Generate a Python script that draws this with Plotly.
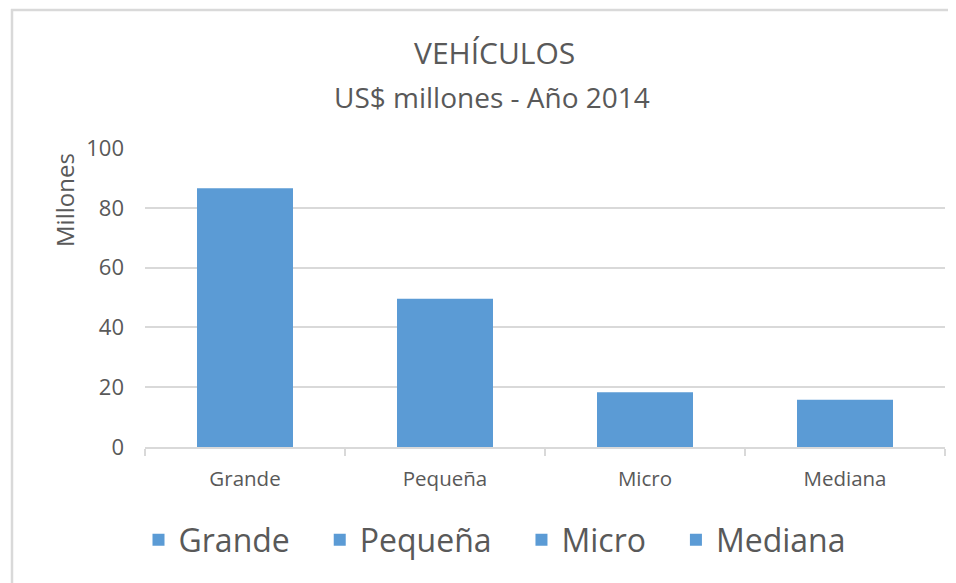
import plotly.graph_objects as go

categories = ["Grande", "Pequeña", "Micro", "Mediana"]
values = [86.5, 49.6, 18.3, 15.8]
y_ticks = [0, 20, 40, 60, 80, 100]

BAR = "#5B9BD5"
TXT = "#595959"
GRID = "#D9D9D9"
FONT = "Open Sans"

fig = go.Figure()
for c, v in zip(categories, values):
    fig.add_trace(go.Bar(x=[c], y=[v], name=c + "\u00a0\u00a0\u00a0",
                         marker=dict(color=BAR, line=dict(width=0)), width=0.48))

OFF = 8  # page body margin
W, H = 948, 575
PL, PR, PT, PB = 145, 945, 148, 447  # plot area in screenshot pixels
L = PL - OFF
T = PT - OFF
R = W - (PR - OFF)
B = H - (PB - OFF)
pw = PR - PL
ph = PB - PT

def px(x):
    return (x - PL) / pw

def py(y):
    return (PB - y) / ph

fig.update_layout(
    width=W, height=H,
    margin=dict(l=L, r=R, t=T, b=B),
    paper_bgcolor="white", plot_bgcolor="white",
    barmode="overlay",
    showlegend=True,
    legend=dict(orientation="h", x=px(507), xanchor="center", y=py(540), yanchor="middle",
                font=dict(family=FONT, size=32, color=TXT), itemwidth=30,
                traceorder="normal", tracegroupgap=0, itemclick=False),
    font=dict(family=FONT, color=TXT),
    xaxis=dict(categoryorder="array", categoryarray=categories, range=[-0.5, 3.5],
               showline=True, linecolor=GRID, linewidth=1.5,
               ticks="outside", tickson="boundaries", ticklen=7, tickcolor=GRID, tickwidth=1.5,
               tickfont=dict(family=FONT, size=20.5, color=TXT), ticklabelstandoff=13,
               showgrid=False),
    yaxis=dict(range=[0, 100], tickvals=y_ticks, showgrid=True, gridcolor=GRID, gridwidth=1.5,
               zeroline=False, showline=False, ticks="",
               tickfont=dict(family=FONT, size=22, color=TXT), ticklabelstandoff=20),
    annotations=[
        dict(text="VEHÍCULOS", xref="paper", yref="paper", x=px(494), y=py(52),
             xanchor="center", yanchor="middle", showarrow=False,
             font=dict(family=FONT, size=30, color=TXT)),
        dict(text="US$ millones - Año 2014", xref="paper", yref="paper", x=px(492), y=py(97),
             xanchor="center", yanchor="middle", showarrow=False,
             font=dict(family=FONT, size=28, color=TXT)),
        dict(text="Millones", xref="paper", yref="paper", x=px(64), y=py(200),
             xanchor="center", yanchor="middle", showarrow=False, textangle=-90,
             font=dict(family=FONT, size=24, color=TXT)),
    ],
    shapes=[
        dict(type="line", xref="paper", yref="paper", x0=px(12), x1=px(12), y0=py(9), y1=py(600),
             line=dict(color=GRID, width=2.5)),
        dict(type="line", xref="paper", yref="paper", x0=px(11), x1=px(1000), y0=py(10), y1=py(10),
             line=dict(color=GRID, width=2.5)),
    ],
)

fig.write_html("out.html")
